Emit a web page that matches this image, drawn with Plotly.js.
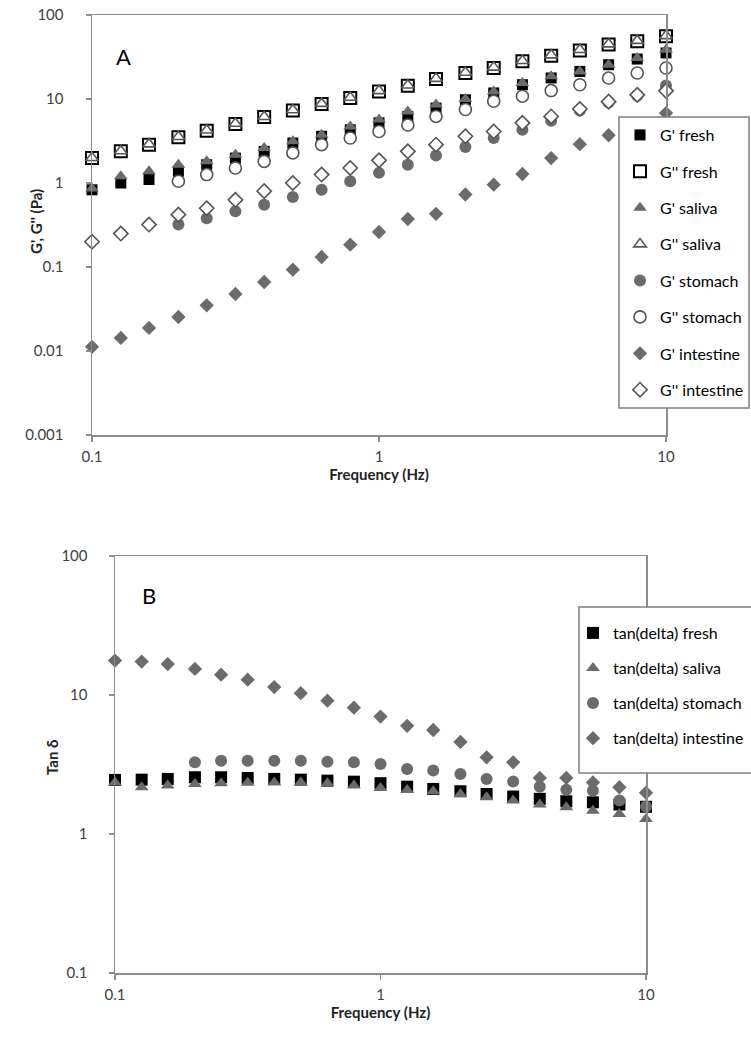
<!DOCTYPE html>
<html>
<head>
<meta charset="utf-8">
<script src="https://cdn.plot.ly/plotly-3.0.1.min.js"></script>
<style>html,body{margin:0;padding:0;background:#fff;}#chart{width:751px;height:1041px;}</style>
</head>
<body>
<div id="chart"></div>
<script>
// Frequencies (Hz)
const freq = [0.1, 0.126, 0.158, 0.2, 0.251, 0.316, 0.398, 0.501, 0.631, 0.794, 1.0,
              1.26, 1.58, 2.0, 2.51, 3.16, 3.98, 5.01, 6.31, 7.94, 10.0];
const freqFrom02 = freq.slice(3);

// Panel A: G', G'' (Pa)
const gp_fresh = [0.83, 1.0, 1.1, 1.38, 1.65, 1.98, 2.38, 2.99, 3.6, 4.3, 5.2, 6.2, 7.8, 9.8, 11.8, 14.8, 17.8, 21.3, 25.6, 29.9, 35.3];
const gpp_fresh = [1.98, 2.38, 2.86, 3.5, 4.2, 5.04, 6.1, 7.3, 8.7, 10.3, 12.3, 14.4, 17.3, 20.4, 23.4, 28.1, 32.8, 37.9, 44.4, 48.6, 55.7];
const gp_saliva = [0.86, 1.2, 1.38, 1.65, 1.81, 2.17, 2.61, 3.13, 3.76, 4.7, 5.7, 7.1, 8.6, 10.0, 12.3, 15.5, 18.6, 21.3, 25.6, 30.8, 38.7];
const gpp_saliva = [2.0, 2.4, 2.9, 3.55, 4.25, 5.1, 6.15, 7.4, 8.8, 10.4, 12.5, 14.6, 17.5, 20.7, 23.8, 28.5, 33.3, 38.5, 45.0, 49.5, 56.5];
const gp_stomach = [0.32, 0.38, 0.46, 0.55, 0.68, 0.83, 1.05, 1.32, 1.65, 2.12, 2.68, 3.43, 4.3, 5.5, 7.3, 9.1, 10.9, 14.5];
const gpp_stomach = [1.05, 1.26, 1.51, 1.81, 2.28, 2.86, 3.43, 4.1, 4.9, 6.2, 7.5, 9.4, 10.8, 12.6, 14.8, 17.8, 20.4, 23.4];
const gp_intestine = [0.0112, 0.0143, 0.0188, 0.0254, 0.035, 0.0477, 0.0663, 0.093, 0.1315, 0.1845, 0.261, 0.373, 0.43, 0.73, 0.955, 1.28, 1.98, 2.9, 3.7, 5.0, 6.8];
const gpp_intestine = [0.20, 0.25, 0.32, 0.42, 0.50, 0.63, 0.80, 1.0, 1.26, 1.51, 1.86, 2.38, 2.86, 3.6, 4.1, 5.2, 6.2, 7.6, 9.3, 11.2, 12.5];

// Panel B: tan delta
const tan_fresh = [2.45, 2.46, 2.49, 2.56, 2.56, 2.53, 2.49, 2.46, 2.42, 2.38, 2.32, 2.19, 2.11, 2.03, 1.94, 1.86, 1.79, 1.72, 1.69, 1.63, 1.57];
const tan_saliva = [2.35, 2.17, 2.23, 2.29, 2.32, 2.34, 2.35, 2.35, 2.32, 2.23, 2.14, 2.07, 2.03, 1.94, 1.84, 1.74, 1.63, 1.56, 1.47, 1.39, 1.28];
const tan_stomach = [3.28, 3.37, 3.37, 3.37, 3.37, 3.31, 3.28, 3.19, 2.94, 2.86, 2.70, 2.49, 2.39, 2.19, 2.08, 2.05, 1.74, 1.58];
const tan_intestine = [17.7, 17.4, 16.7, 15.4, 14.0, 12.9, 11.4, 10.3, 9.1, 8.1, 7.0, 6.0, 5.6, 4.6, 3.56, 3.28, 2.53, 2.53, 2.35, 2.17, 1.98];

const yTicksA = [0.001, 0.01, 0.1, 1, 10, 100];
const yTickTextA = ['0.001', '0.01', '0.1', '1', '10', '100'];
const yTicksB = [0.1, 1, 10, 100];
const yTickTextB = ['0.1', '1', '10', '100'];
const xTicks = [0.1, 1, 10];
const xTickText = ['0.1', '1', '10'];

const FONT = 'Lato, "Open Sans", sans-serif';
const GRAY = '#6b6b6b';
const AXC = '#8c8c8c';

function tr(name, x, y, sym, fill, line, size, xa, ya, leg, lw) {
  return {
    type: 'scatter', mode: 'markers', name: name, x: x, y: y,
    xaxis: xa, yaxis: ya, legend: leg, legendgroup: name, cliponaxis: false,
    marker: { symbol: sym, color: fill, size: size, line: { color: line, width: lw || 0 } },
    hoverinfo: 'x+y+name'
  };
}

const data = [
  tr("G' fresh", freq, gp_fresh, 'square', '#000000', '#000000', 11, 'x', 'y', 'legend'),
  tr("G'' fresh", freq, gpp_fresh, 'square', '#ffffff', '#000000', 12, 'x', 'y', 'legend', 2),
  tr("G' saliva", freq, gp_saliva, 'triangle-up', GRAY, GRAY, 12, 'x', 'y', 'legend'),
  tr("G'' saliva", freq, gpp_saliva, 'triangle-up', '#ffffff', '#555555', 11, 'x', 'y', 'legend', 1.6),
  tr("G' stomach", freqFrom02, gp_stomach, 'circle', GRAY, GRAY, 12, 'x', 'y', 'legend'),
  tr("G'' stomach", freqFrom02, gpp_stomach, 'circle', '#ffffff', '#555555', 12, 'x', 'y', 'legend', 1.6),
  tr("G' intestine", freq, gp_intestine, 'diamond', GRAY, GRAY, 11, 'x', 'y', 'legend'),
  tr("G'' intestine", freq, gpp_intestine, 'diamond', '#ffffff', '#555555', 11, 'x', 'y', 'legend', 1.6),
  tr('tan(delta) fresh', freq, tan_fresh, 'square', '#000000', '#000000', 12, 'x2', 'y2', 'legend2'),
  tr('tan(delta) saliva', freq, tan_saliva, 'triangle-up', GRAY, GRAY, 12, 'x2', 'y2', 'legend2'),
  tr('tan(delta) stomach', freqFrom02, tan_stomach, 'circle', GRAY, GRAY, 12, 'x2', 'y2', 'legend2'),
  tr('tan(delta) intestine', freq, tan_intestine, 'diamond', GRAY, GRAY, 11, 'x2', 'y2', 'legend2')
];

const W = 751, H = 1041;
function px2x(p) { return p / W; }
function px2y(p) { return 1 - p / H; }

const axBase = {
  type: 'log', showgrid: false, zeroline: false, showline: true, linecolor: AXC, linewidth: 1.5,
  mirror: true, ticks: 'outside', ticklen: 5, tickcolor: AXC, tickwidth: 1.2,
  tickfont: { family: FONT, size: 15, color: '#404040' }
};
const xTitleFont = { family: FONT, size: 15, weight: 'bold', color: '#222222' };

const layout = {
  width: W, height: H,
  margin: { l: 0, r: 0, t: 0, b: 0, autoexpand: false },
  paper_bgcolor: '#ffffff', plot_bgcolor: '#ffffff',
  font: { family: FONT, color: '#000000' },
  showlegend: true,
  xaxis: Object.assign({}, axBase, {
    domain: [px2x(92), px2x(666)], range: [-1, 1], anchor: 'y',
    tickvals: xTicks, ticktext: xTickText, ticklabelstandoff: 2,
    title: { text: 'Frequency (Hz)', font: xTitleFont, standoff: 4 }
  }),
  yaxis: Object.assign({}, axBase, {
    domain: [px2y(435), px2y(15)], range: [-3, 2], anchor: 'x',
    tickvals: yTicksA, ticktext: yTickTextA, ticklabelstandoff: 19
  }),
  xaxis2: Object.assign({}, axBase, {
    domain: [px2x(115), px2x(646)], range: [-1, 1], anchor: 'y2',
    tickvals: xTicks, ticktext: xTickText, ticklabelstandoff: 2,
    title: { text: 'Frequency (Hz)', font: xTitleFont, standoff: 4 }
  }),
  yaxis2: Object.assign({}, axBase, {
    domain: [px2y(973), px2y(556)], range: [-1, 2], anchor: 'x2',
    tickvals: yTicksB, ticktext: yTickTextB, ticklabelstandoff: 18
  }),
  legend: {
    x: px2x(620), y: px2y(118), xanchor: 'left', yanchor: 'top',
    bgcolor: 'rgba(0,0,0,0)', borderwidth: 0,
    font: { family: FONT, size: 16, color: '#000000' },
    traceorder: 'grouped', tracegroupgap: 12.6, itemwidth: 30
  },
  legend2: {
    x: px2x(573), y: px2y(616), xanchor: 'left', yanchor: 'top',
    bgcolor: 'rgba(0,0,0,0)', borderwidth: 0,
    font: { family: FONT, size: 16, color: '#000000' },
    traceorder: 'grouped', tracegroupgap: 11.3, itemwidth: 30
  },
  shapes: [
    { type: 'rect', xref: 'paper', yref: 'paper', layer: 'above',
      x0: px2x(619), x1: px2x(749), y0: px2y(408), y1: px2y(117),
      fillcolor: '#ffffff', line: { color: '#7f7f7f', width: 1.5 } },
    { type: 'rect', xref: 'paper', yref: 'paper', layer: 'above',
      x0: px2x(579), x1: px2x(770), y0: px2y(773), y1: px2y(607),
      fillcolor: '#ffffff', line: { color: '#7f7f7f', width: 1.5 } }
  ],
  annotations: [
    { text: 'A', xref: 'paper', yref: 'paper', x: px2x(123), y: px2y(57), showarrow: false,
      xanchor: 'center', yanchor: 'middle', font: { family: FONT, size: 22, color: '#000000' } },
    { text: 'B', xref: 'paper', yref: 'paper', x: px2x(149), y: px2y(595), showarrow: false,
      xanchor: 'center', yanchor: 'middle', font: { family: FONT, size: 22, color: '#000000' } },
    { text: "G', G'' (Pa)", xref: 'paper', yref: 'paper', x: px2x(36), y: px2y(222), showarrow: false,
      xanchor: 'center', yanchor: 'middle', textangle: -90,
      font: { family: FONT, size: 15, weight: 'bold', color: '#222222' } },
    { text: 'Tan δ', xref: 'paper', yref: 'paper', x: px2x(52), y: px2y(757), showarrow: false,
      xanchor: 'center', yanchor: 'middle', textangle: -90,
      font: { family: FONT, size: 15, weight: 'bold', color: '#222222' } }
  ]
};

Plotly.newPlot('chart', data, layout, { displayModeBar: false, staticPlot: true });
</script>
</body>
</html>
